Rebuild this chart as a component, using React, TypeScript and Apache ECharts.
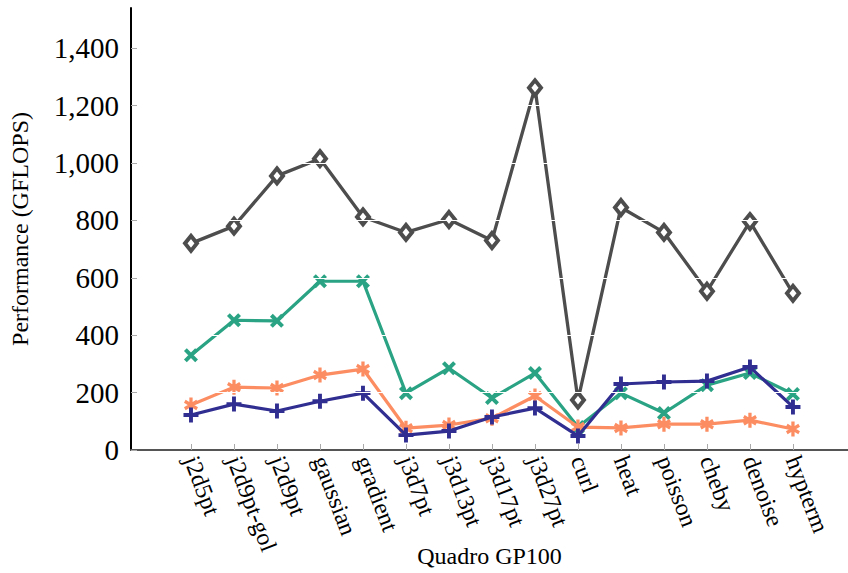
import React, { useEffect, useRef } from "react";
import * as echarts from "echarts";

const categories = [
  "j2d5pt", "j2d9pt-gol", "j2d9pt", "gaussian", "gradient", "j3d7pt", "j3d13pt",
  "j3d17pt", "j3d27pt", "curl", "heat", "poisson", "cheby", "denoise", "hypterm",
];
const grayValues = [720, 780, 955, 1015, 812, 758, 803, 730, 1262, 174, 845, 758, 553, 796, 546];
const greenValues = [330, 452, 450, 588, 588, 198, 285, 181, 268, 80, 198, 129, 226, 268, 195];
const salmonValues = [157, 219, 216, 261, 282, 76, 87, 111, 188, 80, 77, 90, 90, 104, 73];
const navyValues = [122, 160, 136, 170, 198, 52, 66, 115, 146, 49, 230, 237, 240, 289, 150];
const yTicks = [0, 200, 400, 600, 800, 1000, 1200, 1400];
const gridValues = [200, 400, 600, 800, 1000, 1200, 1400];

function barsPath(angles: number[], th: number): string {
  const L = 5;
  const f = (n: number) => n.toFixed(3);
  return (
    "path://" +
    angles
      .map((deg) => {
        const r = (deg * Math.PI) / 180;
        const dx = Math.cos(r), dy = Math.sin(r);
        const nx = -dy, ny = dx;
        const h = th / 2;
        const pts = [
          [-L * dx - h * nx, -L * dy - h * ny],
          [L * dx - h * nx, L * dy - h * ny],
          [L * dx + h * nx, L * dy + h * ny],
          [-L * dx + h * nx, -L * dy + h * ny],
        ];
        return "M" + pts.map((p) => f(p[0] + 5) + "," + f(p[1] + 5)).join("L") + "Z";
      })
      .join("")
  );
}

const plusSym = barsPath([0, 90], 2.6);
const xSym = barsPath([45, 135], 2.5);
const starSym = barsPath([90, 30, 150], 2.3);

const FONT = "'Liberation Serif', 'DejaVu Serif', serif";

function toPoints(vals: number[]) {
  return vals.map((v, i) => [i, v]);
}

export default function App() {
  const ref = useRef<HTMLDivElement>(null);
  useEffect(() => {
    document.body.style.margin = "0";
    if (!ref.current) return;
    const chart = echarts.init(ref.current, undefined, { renderer: "svg" });
    const idx = categories.map((_, i) => i);
    chart.setOption({
      animation: false,
      backgroundColor: "#fff",
      grid: { left: 131, right: 0, top: 8, bottom: 123, containLabel: false, outerBoundsMode: "none" },
      xAxis: {
        type: "value",
        min: -1.395,
        max: 15.28,
        name: "Quadro GP100",
        nameLocation: "middle",
        nameGap: 94,
        nameMoveOverlap: false,
        nameTextStyle: { fontFamily: FONT, fontSize: 24, color: "#000" },
        axisLine: { show: true, onZero: false, lineStyle: { color: "#555", width: 2 } },
        axisTick: { show: true, inside: true, length: 6, customValues: idx, lineStyle: { color: "#aaa", width: 1 } },
        splitLine: { show: false },
        axisLabel: {
          customValues: idx,
          rotate: -69,
          margin: 7,
          fontFamily: FONT,
          fontSize: 24,
          color: "#000",
          formatter: (v: number) => categories[Math.round(v)] ?? "",
        },
        z: 10,
      },
      yAxis: {
        type: "value",
        min: 0,
        max: 1540,
        name: "Performance (GFLOPS)",
        nameLocation: "middle",
        nameGap: 99,
        nameTextStyle: { fontFamily: FONT, fontSize: 24, color: "#000" },
        axisLine: { show: true, onZero: false, lineStyle: { color: "#000", width: 2 } },
        axisTick: { show: true, inside: true, length: 6, customValues: yTicks, lineStyle: { color: "#aaa", width: 1 } },
        splitLine: { show: false },
        axisLabel: {
          customValues: yTicks,
          margin: 12,
          fontFamily: FONT,
          fontSize: 29,
          color: "#000",
          formatter: (v: number) => v.toLocaleString("en-US"),
        },
        z: 10,
      },
      series: [
        {
          type: "line",
          data: toPoints(grayValues),
          symbol: "diamond",
          symbolSize: [12, 15],
          showAllSymbol: true,
          lineStyle: { color: "#4d4d4d", width: 3.3 },
          itemStyle: { color: "#fff", borderColor: "#4d4d4d", borderWidth: 4 },
          z: 2,
        },
        {
          type: "line",
          data: toPoints(greenValues),
          symbol: xSym,
          symbolSize: 14,
          lineStyle: { color: "#29a383", width: 3.2 },
          itemStyle: { color: "#29a383" },
          z: 3,
        },
        {
          type: "line",
          data: toPoints(salmonValues),
          symbol: starSym,
          symbolSize: [14, 15],
          lineStyle: { color: "#fc8d62", width: 3.2 },
          itemStyle: { color: "#fc8d62" },
          z: 4,
        },
        {
          type: "line",
          data: toPoints(navyValues),
          symbol: plusSym,
          symbolSize: 15,
          lineStyle: { color: "#312e91", width: 3.2 },
          itemStyle: { color: "#312e91" },
          z: 5,
        },
        {
          type: "line",
          data: [],
          silent: true,
          z: 8,
          markLine: {
            silent: true,
            symbol: "none",
            label: { show: false },
            lineStyle: { color: "#fff", width: 1, type: "solid" },
            data: gridValues.map((v) => ({ yAxis: v })),
            z: 8,
          },
        },
      ],
    });
    return () => chart.dispose();
  }, []);
  return <div ref={ref} style={{ width: 848, height: 573 }} />;
}
